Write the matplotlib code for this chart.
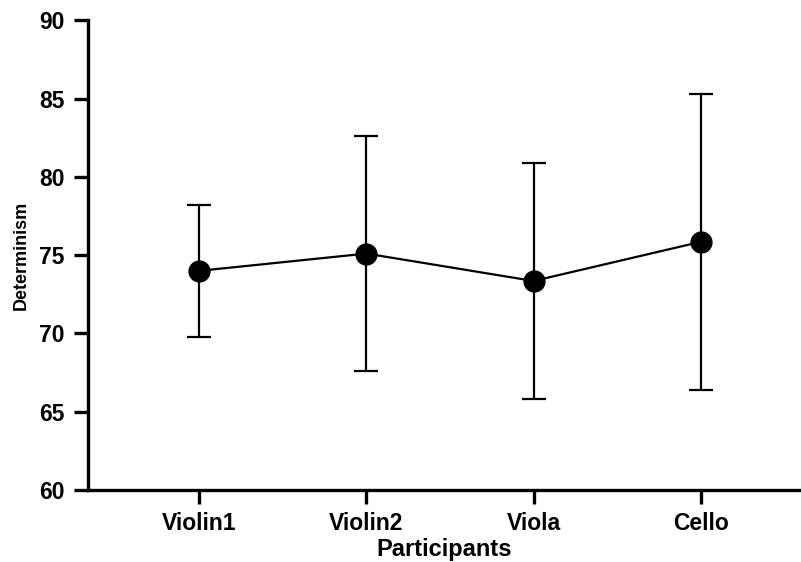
import matplotlib
matplotlib.use("Agg")
import matplotlib.pyplot as plt

categories = ["Violin1", "Violin2", "Viola", "Cello"]
means = [74.0, 75.1, 73.35, 75.85]
sds = [4.2, 7.5, 7.55, 9.45]
yticks = [60, 65, 70, 75, 80, 85, 90]

plt.rcParams['font.family'] = ['Liberation Sans', 'DejaVu Sans']
plt.rcParams['font.weight'] = 'bold'

fig = plt.figure(figsize=(8.01, 5.62), dpi=100)
ax = fig.add_axes([0.11, 0.128, 0.89, 0.836])

x = list(range(len(categories)))
ax.errorbar(x, means, yerr=sds, color='black', lw=1.6, marker='o', ms=15,
            capsize=8.3, capthick=1.6, elinewidth=1.6)

ax.set_xlim(-0.665, 3.6)
ax.set_ylim(60, 90)
ax.set_yticks(yticks)
ax.set_xticks(x)
ax.set_xticklabels(categories)
for s in ['top', 'right']:
    ax.spines[s].set_visible(False)
for s in ['left', 'bottom']:
    ax.spines[s].set_linewidth(2.4)
ax.tick_params(axis='y', width=2.4, length=10, labelsize=16.5, pad=7)
ax.tick_params(axis='x', width=2.4, length=10, labelsize=16.5, pad=6)
for lab in ax.get_xticklabels() + ax.get_yticklabels():
    lab.set_fontweight('bold')
ax.set_ylabel("Determinism", fontsize=13, fontweight='bold', labelpad=7)
ax.set_xlabel("Participants", fontsize=17, fontweight='bold', labelpad=2)

fig.savefig("out.png", dpi=100)
